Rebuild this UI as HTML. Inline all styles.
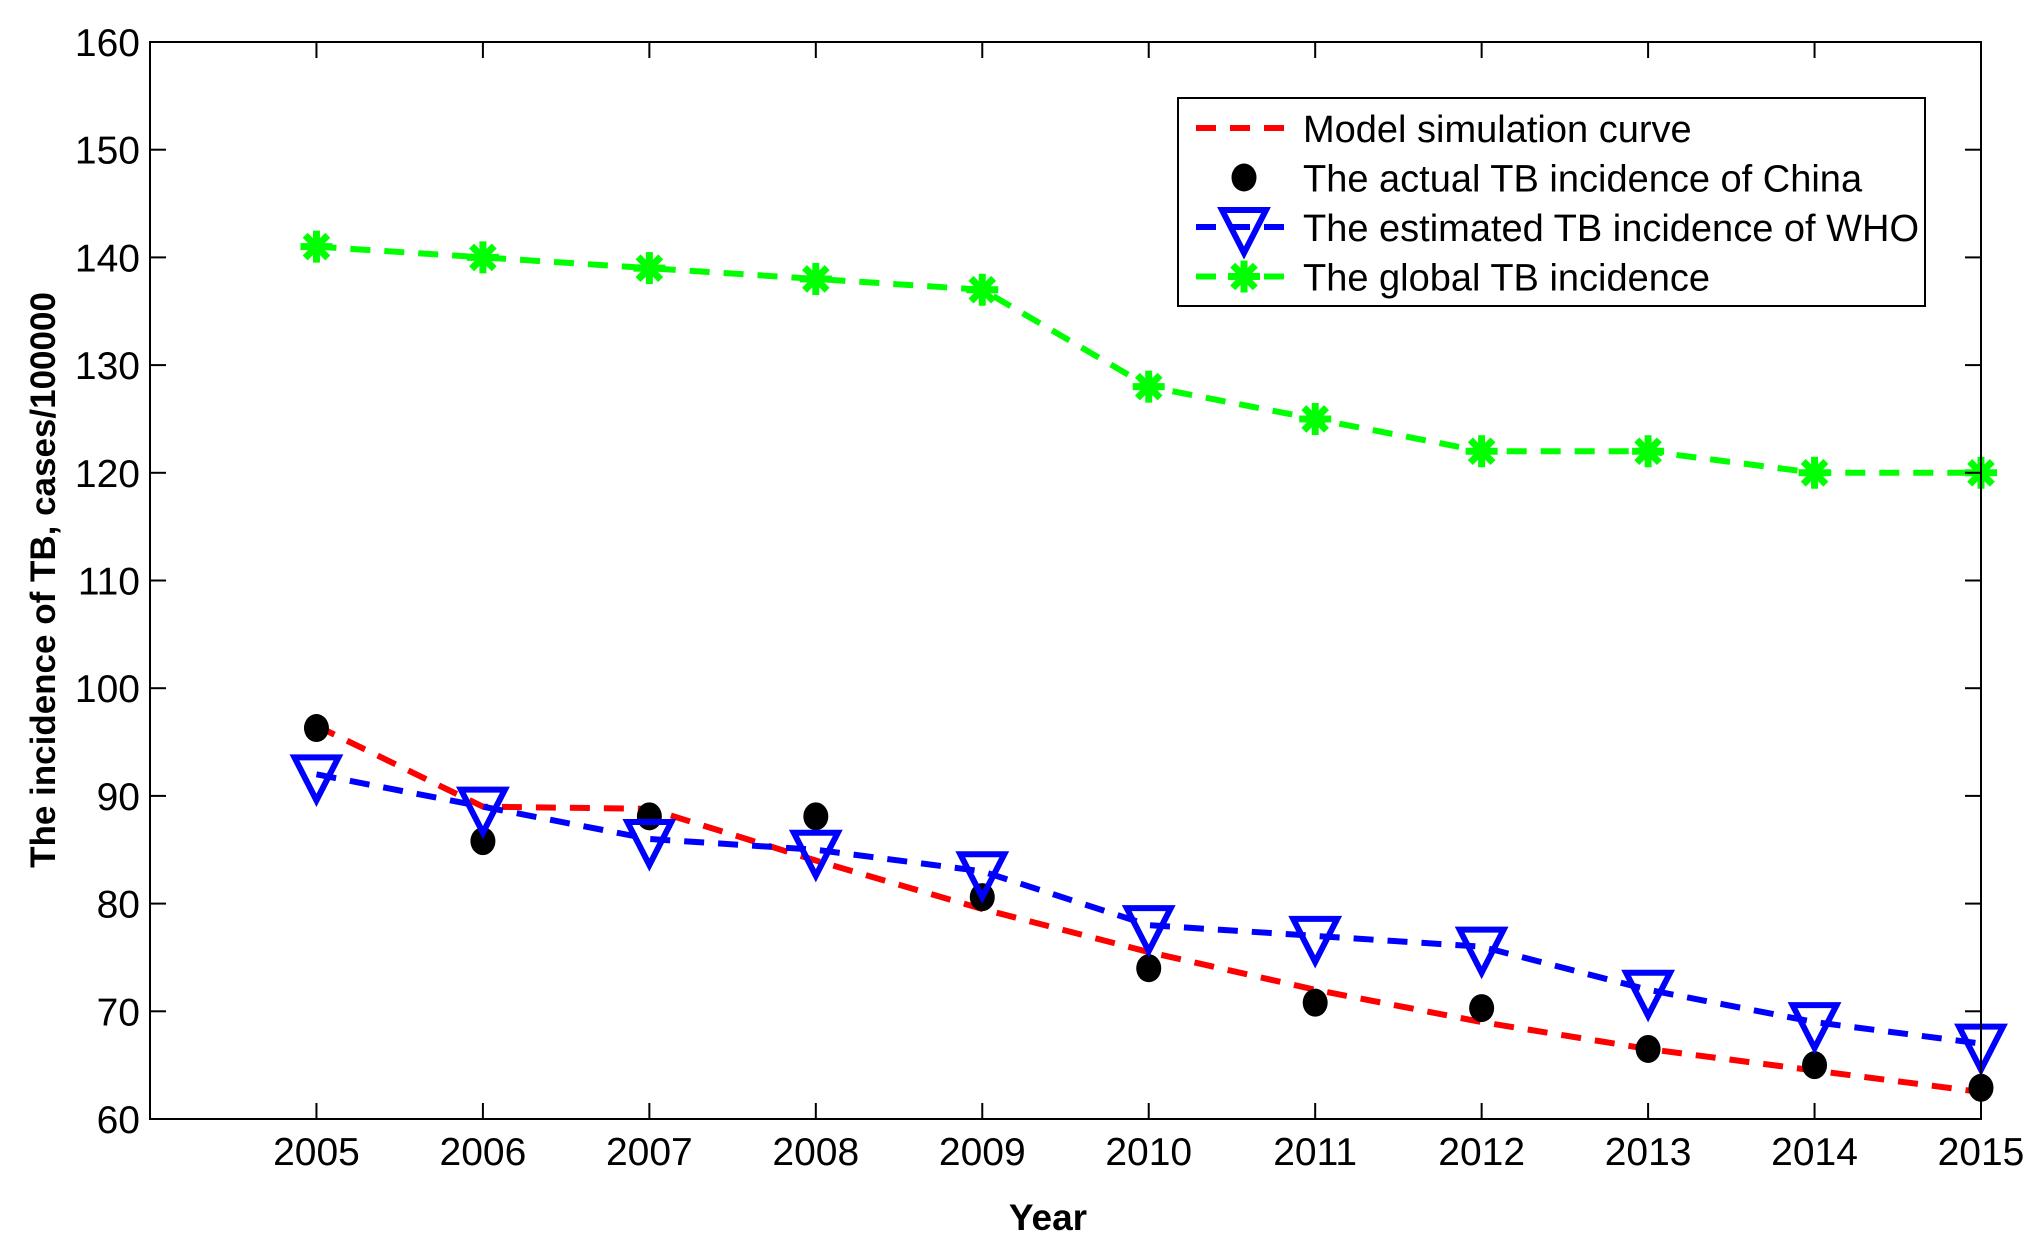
<!DOCTYPE html>
<html><head><meta charset="utf-8"><style>
html,body{margin:0;padding:0;background:#fff;}
svg{display:block;font-family:"Liberation Sans",Arial,sans-serif;}
</style></head><body>
<svg id="chart" width="2038" height="1248" viewBox="0 0 2038 1248">
<g id="marks"></g>
<g id="axes"></g>
<g id="legend"></g>
</svg>
<script>
const years = [2005,2006,2007,2008,2009,2010,2011,2012,2013,2014,2015];
const modelValues = [96.5,89,88.8,84,79.5,75.5,72,69,66.5,64.5,62.5];
const actualValues = [96.3,85.8,88.1,88.1,80.6,74,70.8,70.3,66.5,65,62.9];
const whoValues = [92,89,86,85,83,78,77,76,72,69,67];
const globalValues = [141,140,139,138,137,128,125,122,122,120,120];
const yTicks = [60,70,80,90,100,110,120,130,140,150,160];
const xTicks = [2005,2006,2007,2008,2009,2010,2011,2012,2013,2014,2015];

const L=150,R=1981,T=42,B=1119;
const xMin=2004,xMax=2015,yMin=60,yMax=160;
const sx=v=>L+(v-xMin)/(xMax-xMin)*(R-L);
const sy=v=>B-(v-yMin)/(yMax-yMin)*(B-T);
const NS='http://www.w3.org/2000/svg';
function mk(tag,attrs,parent){const e=document.createElementNS(NS,tag);for(const k in attrs)e.setAttribute(k,attrs[k]);parent.appendChild(e);return e;}
const marks=document.getElementById('marks'),axes=document.getElementById('axes'),legend=document.getElementById('legend');

function line(vals,color,name){
  const p=mk('polyline',{points:years.map((y,i)=>sx(y)+','+sy(vals[i])).join(' '),fill:'none',stroke:color,'stroke-width':6,'stroke-dasharray':'20 14'},marks);
  
  
}
function star(cx,cy,s,parent,name){
  const g=mk('g',{stroke:'#00ff00','stroke-width':7},parent);
  
  
  for(let a=0;a<4;a++){const t=a*Math.PI/4;mk('line',{x1:cx-s*Math.sin(t),y1:cy-s*Math.cos(t),x2:cx+s*Math.sin(t),y2:cy+s*Math.cos(t)},g);}
}
function tri(cx,cy,parent,name){
  const p=mk('polygon',{points:`${cx-22},${cy-17} ${cx+22},${cy-17} ${cx},${cy+26}`,fill:'none',stroke:'#0000ff','stroke-width':6},parent);
  
  
}
function dot(cx,cy,parent,name){
  const c=mk('ellipse',{cx:cx,cy:cy,rx:12.5,ry:14,fill:'#000'},parent);
  
  
}

line(modelValues,'#ff0000','model-simulation-line');
line(whoValues,'#0000ff','who-estimate-line');
line(globalValues,'#00ff00','global-incidence-line');
years.forEach((y,i)=>{
  dot(sx(y),sy(actualValues[i]),marks,'actual-point');
  tri(sx(y),sy(whoValues[i]),marks,'who-point');
  star(sx(y),sy(globalValues[i]),16,marks,'global-point');
});

const box=mk('rect',{x:L,y:T,width:R-L,height:B-T,fill:'none',stroke:'#000','stroke-width':2},axes);


yTicks.forEach(v=>{
  mk('line',{x1:L,y1:sy(v),x2:L+16,y2:sy(v),stroke:'#000','stroke-width':2},axes);
  mk('line',{x1:R,y1:sy(v),x2:R-16,y2:sy(v),stroke:'#000','stroke-width':2},axes);
  const t=mk('text',{x:L-10,y:sy(v)+14,'text-anchor':'end','font-size':39},axes);
  t.textContent=v;
  
  
});
xTicks.forEach(v=>{
  mk('line',{x1:sx(v),y1:B,x2:sx(v),y2:B-16,stroke:'#000','stroke-width':2},axes);
  mk('line',{x1:sx(v),y1:T,x2:sx(v),y2:T+16,stroke:'#000','stroke-width':2},axes);
  const t=mk('text',{x:sx(v),y:B+46,'text-anchor':'middle','font-size':39},axes);
  t.textContent=v;
  
  
});
const xt=mk('text',{x:1048,y:1230,'text-anchor':'middle','font-size':37,'font-weight':'bold'},axes);
xt.textContent='Year';


const yt=mk('text',{x:0,y:0,transform:'translate(55,580) rotate(-90)','text-anchor':'middle','font-size':35,'font-weight':'bold'},axes);
yt.textContent='The incidence of TB, cases/100000';



const lb=mk('rect',{x:1178,y:98,width:747,height:208,fill:'#fff',stroke:'#000','stroke-width':2},legend);


const entries=['Model simulation curve','The actual TB incidence of China','The estimated TB incidence of WHO','The global TB incidence'];
const colors=['#ff0000',null,'#0000ff','#00ff00'];
entries.forEach((txt,i)=>{
  const cy=128+i*49.5;
  const g=mk('g',{},legend);
  
  
  if(colors[i]) mk('line',{x1:1196,y1:cy,x2:1292,y2:cy,stroke:colors[i],'stroke-width':6,'stroke-dasharray':'20 14'},g);
  if(i===1) dot(1244,cy,g,'legend-dot');
  if(i===2) tri(1244,cy,g,'legend-triangle');
  if(i===3) star(1244,cy,16,g,'legend-star');
  const t=mk('text',{x:1303,y:cy+14,'font-size':38},g);
  t.textContent=txt;
});
</script>
</body></html>
